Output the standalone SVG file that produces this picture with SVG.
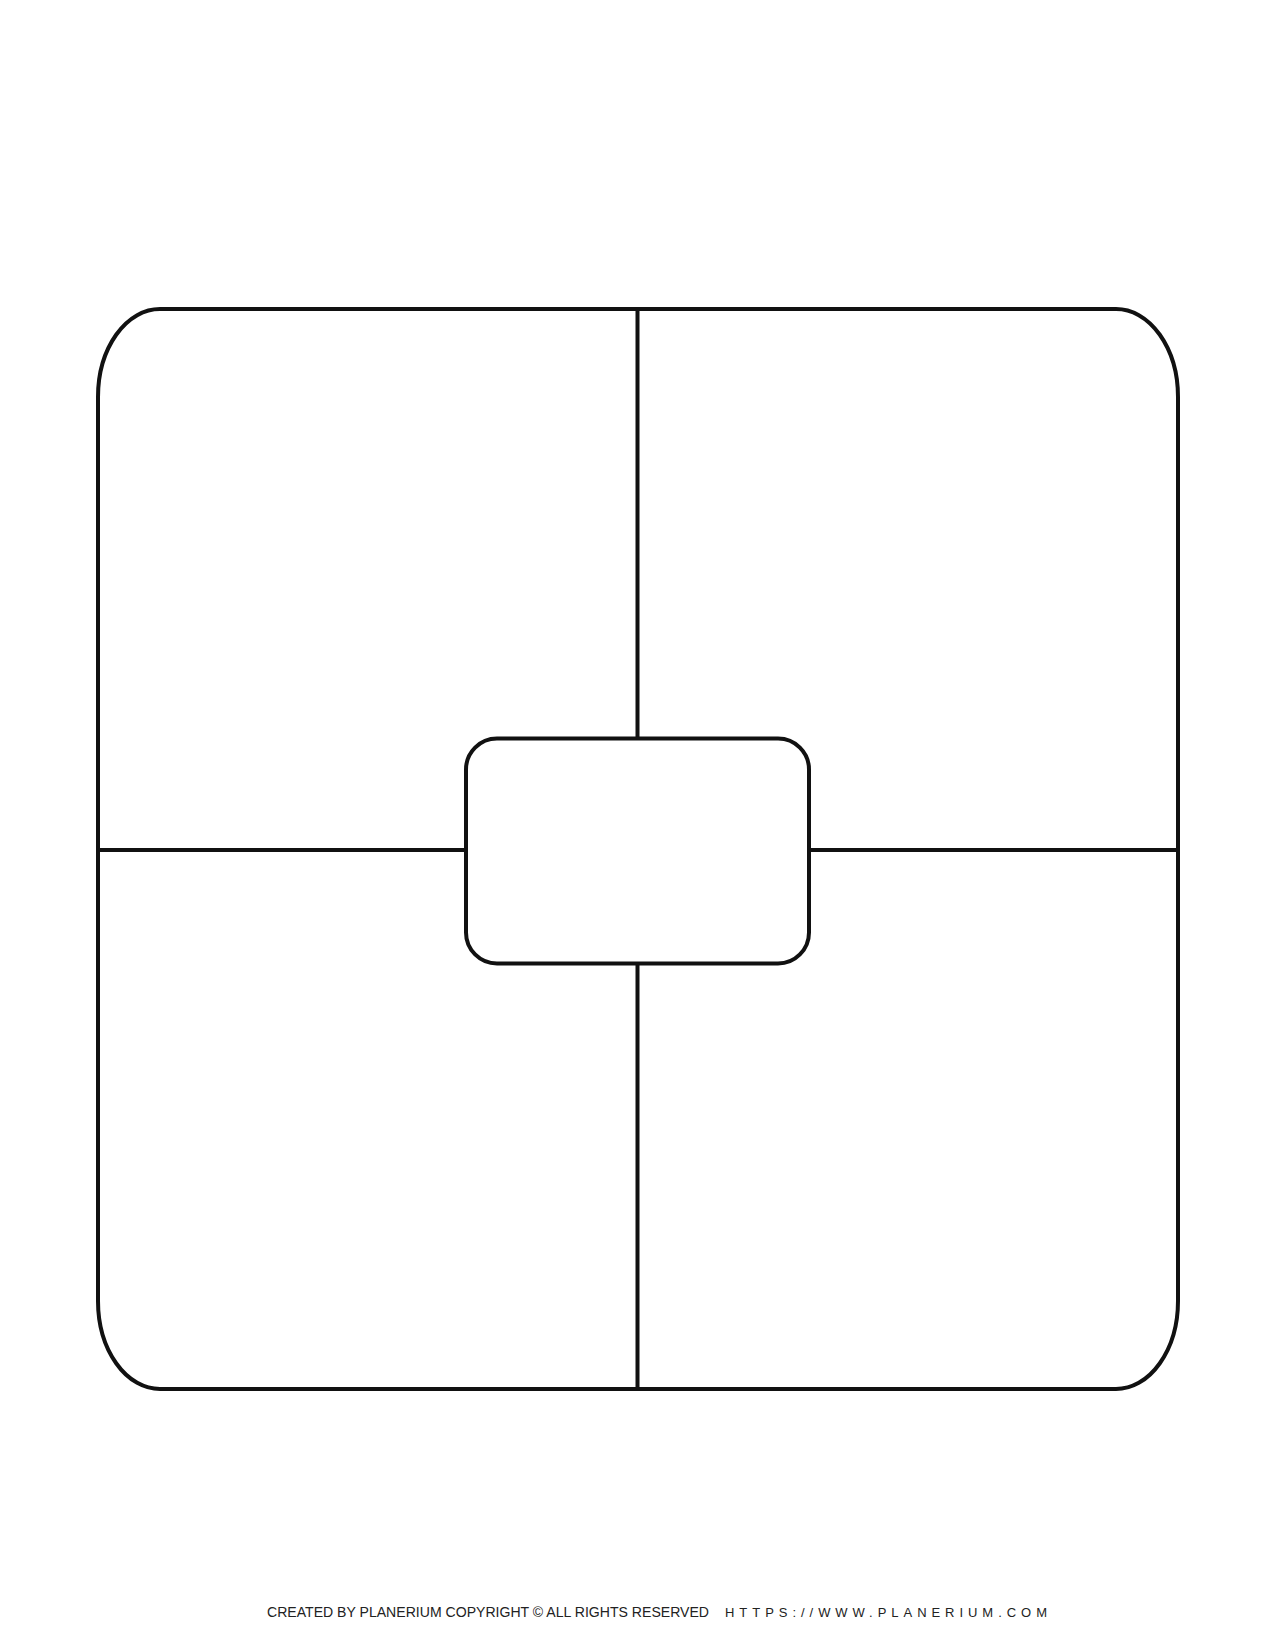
<svg xmlns="http://www.w3.org/2000/svg" width="1275" height="1650" viewBox="0 0 1275 1650">
<style>
.ln{fill:none;stroke:#111;stroke-width:4;stroke-linecap:butt}
.ft{font-family:"Liberation Sans",Arial,sans-serif;fill:#222}
</style>
<rect width="1275" height="1650" fill="#fff"/>
<g id="connectors">
<line class="ln" x1="637.5" y1="309" x2="637.5" y2="738"/>
<line class="ln" x1="637.5" y1="963" x2="637.5" y2="1389"/>
<line class="ln" x1="98" y1="850" x2="466" y2="850"/>
<line class="ln" x1="809" y1="850" x2="1178" y2="850"/>
</g>
<g id="outer">
<path class="ln" d="M160,309 H1116 A62,88 0 0 1 1178,397 V1301 A62,88 0 0 1 1116,1389 H160 A62,88 0 0 1 98,1301 V397 A62,88 0 0 1 160,309 Z"/>
</g>
<g id="center">
<rect class="ln" x="466" y="738.5" width="343" height="225" rx="31" ry="31" fill="#fff"/>
</g>
<g id="footer">
<text class="ft" x="267" y="1617" font-size="14" textLength="442" lengthAdjust="spacingAndGlyphs">CREATED BY PLANERIUM COPYRIGHT © ALL RIGHTS RESERVED</text>
<text class="ft" x="725" y="1617" font-size="13" textLength="322" lengthAdjust="spacing">HTTPS://WWW.PLANERIUM.COM</text>
</g>
</svg>
